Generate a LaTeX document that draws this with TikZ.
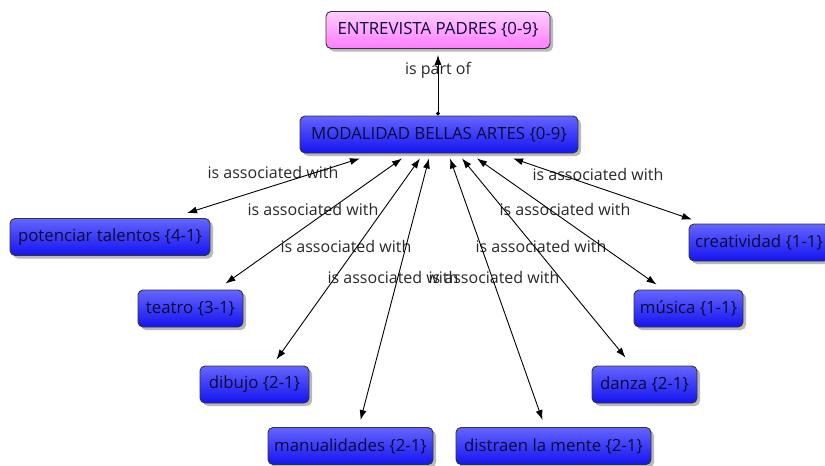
\documentclass[tikz,border=0pt]{standalone}
\usepackage{fontspec}
\setmainfont{Open Sans}
\usetikzlibrary{calc,shadows,arrows.meta}
\definecolor{bluetop}{RGB}{100,100,255}
\definecolor{bluebot}{RGB}{20,20,240}
\definecolor{pinktop}{RGB}{255,205,255}
\definecolor{pinkbot}{RGB}{255,125,255}
\definecolor{txt}{RGB}{10,10,60}
\definecolor{lbl}{RGB}{40,40,40}
\tikzset{
  concept/.style={draw=black!80, line width=0.9pt, rounded corners=5pt,
    top color=bluetop, bottom color=bluebot, text=txt,
    drop shadow={shadow xshift=3pt, shadow yshift=-3pt, opacity=0.55},
    minimum height=37pt, inner xsep=2pt, inner ysep=2pt,
    font=\fontsize{16.8}{19}\selectfont},
  root/.style={concept, top color=pinktop, bottom color=pinkbot},
  lab/.style={text=lbl, font=\fontsize{16}{18}\selectfont, inner sep=1pt},
  assoc/.style={{Latex[length=10pt,width=7pt]}-{Latex[length=10pt,width=7pt]}, line width=0.9pt},
  partof/.style={{Circle[length=4pt]}-{Latex[length=10pt,width=7pt]}, line width=0.9pt}
}
\begin{document}
\begin{tikzpicture}[x=1pt,y=-1pt]
\useasboundingbox (0,0) rectangle (825,466);
\fill[white] (0,0) rectangle (825,466);
% nodes
\node[root, minimum width=224pt] (ent) at (438,30) {ENTREVISTA PADRES \{0-9\}};
\node[concept, minimum width=278pt] (mod) at (439,134.5) {MODALIDAD BELLAS ARTES \{0-9\}};
\node[concept, minimum width=200pt] (pot) at (110,237) {potenciar talentos \{4-1\}};
\node[concept, minimum width=105pt] (tea) at (190.5,308.5) {teatro \{3-1\}};
\node[concept, minimum width=109pt] (dib) at (254.5,384.5) {dibujo \{2-1\}};
\node[concept, minimum width=165pt] (man) at (350.5,446) {manualidades \{2-1\}};
\node[concept, minimum width=195pt] (dis) at (553.5,446) {distraen la mente \{2-1\}};
\node[concept, minimum width=105pt] (dan) at (644.5,384.5) {danza \{2-1\}};
\node[concept, minimum width=109pt] (mus) at (688.5,308.5) {música \{1-1\}};
\node[concept, minimum width=140pt] (cre) at (759,242.5) {creatividad \{1-1\}};
% labels
\node[lab] (lpart) at (438,70) {is part of};
\node[lab] (l1) at (273,172) {is associated with};
\node[lab] (l2) at (313,209) {is associated with};
\node[lab] (l3) at (346,246) {is associated with};
\node[lab] (l4) at (393,277) {is associated with};
\node[lab] (l5) at (494,277) {is associated with};
\node[lab] (l6) at (541,246) {is associated with};
\node[lab] (l7) at (565,209) {is associated with};
\node[lab] (l8) at (598,174) {is associated with};
% connectors
\draw[partof] ($(mod.north)+(-1,0)$) -- ($(ent.south)+(0,6)$);
\draw[assoc] ($(mod.south)+(-79,5)$) -- ($(pot.north)+(77,-5)$);
\draw[assoc] ($(mod.south)+(-37,5)$) -- ($(tea.north)+(35,-6)$);
\draw[assoc] ($(mod.south)+(-19,5)$) -- ($(dib.north)+(22,-6)$);
\draw[assoc] ($(mod.south)+(-10,5)$) -- ($(man.north)+(10,-7)$);
\draw[assoc] ($(mod.south)+(11,5)$) -- ($(dis.north)+(-11,-7)$);
\draw[assoc] ($(mod.south)+(23,5)$) -- ($(dan.north)+(-19,-8)$);
\draw[assoc] ($(mod.south)+(38,5)$) -- ($(mus.north)+(-32,-5)$);
\draw[assoc] ($(mod.south)+(74,5)$) -- ($(cre.north)+(-67,-4)$);
\end{tikzpicture}
\end{document}
